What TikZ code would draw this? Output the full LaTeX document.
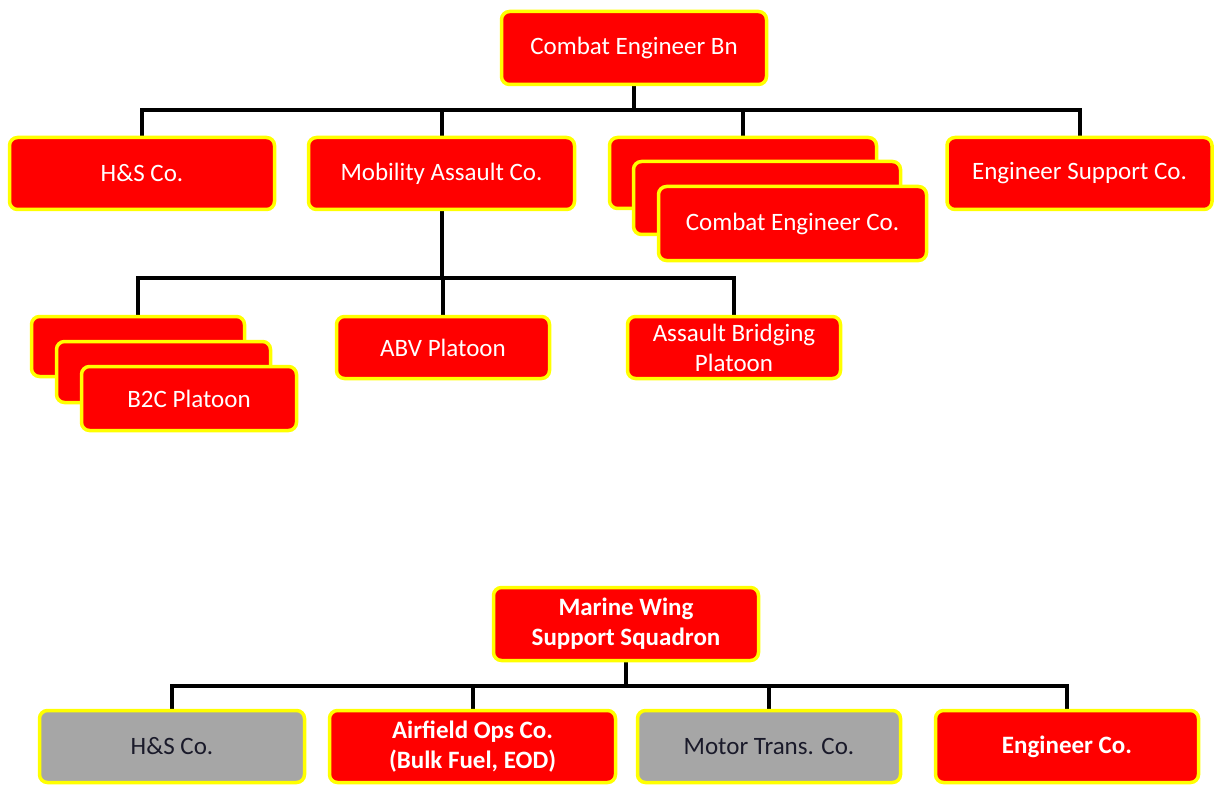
\documentclass[tikz,border=0pt]{standalone}
\usepackage{fontspec}
\setmainfont{Carlito}
\pgfdeclarelayer{bg}
\pgfsetlayers{bg,main}
\definecolor{boxred}{HTML}{FF0000}
\definecolor{boxyellow}{HTML}{FFFF00}
\definecolor{boxgray}{HTML}{A6A6A6}
\definecolor{graytext}{HTML}{1A1A2A}
\tikzset{
  unitbox/.style={rectangle, rounded corners=8pt, draw=boxyellow, line width=3.5pt,
    fill=boxred, text=white, align=center, inner sep=0pt,
    font=\fontsize{25}{30}\selectfont},
  graybox/.style={unitbox, fill=boxgray, text=graytext},
  boldbox/.style={unitbox, font=\fontsize{25}{30}\selectfont\bfseries},
  conn/.style={line width=4pt, black},
}
\begin{document}
\begin{tikzpicture}[x=1pt,y=-1pt]
\useasboundingbox (0,0) rectangle (1214,786);
% top tree
\node[unitbox, minimum width=265pt, minimum height=73pt] (ceb) at (634,48) {Combat Engineer Bn};
\node[unitbox, minimum width=265pt, minimum height=72pt] (hs) at (142,173.5) {H\&S Co.};
\node[unitbox, minimum width=266pt, minimum height=72pt] (mac) at (441.5,173.5) {Mobility Assault Co.};
\node[unitbox, minimum width=267pt, minimum height=71pt] (cec1) at (743,173) {};
\node[unitbox, minimum width=267pt, minimum height=73pt] (cec2) at (767,198) {};
\node[unitbox, minimum width=268pt, minimum height=74pt] (cec3) at (792.5,223.5) {Combat Engineer Co.};
\node[unitbox, minimum width=265pt, minimum height=72pt] (esc) at (1079.5,173.5) {Engineer Support Co.};
% platoons
\node[unitbox, minimum width=213pt, minimum height=60pt] (b2c1) at (138,346.5) {};
\node[unitbox, minimum width=214pt, minimum height=61pt] (b2c2) at (163.5,372) {};
\node[unitbox, minimum width=215pt, minimum height=64pt] (b2c3) at (189,398.5) {B2C Platoon};
\node[unitbox, minimum width=213pt, minimum height=62pt] (abv) at (443,347.5) {ABV Platoon};
\node[unitbox, minimum width=213pt, minimum height=62pt] (abp) at (734,347.5) {Assault Bridging\\Platoon};
% bottom tree
\node[boldbox, minimum width=265pt, minimum height=73pt] (mwss) at (626,624) {Marine Wing\\Support Squadron};
\node[graybox, minimum width=265pt, minimum height=72pt] (hs2) at (172,746.5) {H\&S Co.};
\node[boldbox, minimum width=286pt, minimum height=72pt] (aoc) at (472.5,746.5) {Airfield Ops Co.\\(Bulk Fuel, EOD)};
\node[graybox, minimum width=263pt, minimum height=72pt] (mtc) at (769,746.5) {Motor Trans. Co.};
\node[boldbox, minimum width=263pt, minimum height=72pt] (eco) at (1067,746.5) {Engineer Co.};
% junctions
\coordinate (bus1) at (634,110);
\coordinate (bus2) at (441.5,278);
\coordinate (bus3) at (626,686);
\begin{pgfonlayer}{bg}
\draw[conn] (ceb.south) -- (bus1);
\draw[conn] (hs.north) |- (bus1) -| (esc.north);
\draw[conn] (mac.north) -- (mac.north |- bus1);
\draw[conn] (cec1.north) -- (cec1.north |- bus1);
\draw[conn] (mac.south) -- (bus2);
\draw[conn] (b2c1.north) |- (bus2) -| (abp.north);
\draw[conn] (abv.north) -- (abv.north |- bus2);
\draw[conn] (mwss.south) -- (bus3);
\draw[conn] (hs2.north) |- (bus3) -| (eco.north);
\draw[conn] (aoc.north) -- (aoc.north |- bus3);
\draw[conn] (mtc.north) -- (mtc.north |- bus3);
\end{pgfonlayer}
\end{tikzpicture}
\end{document}
